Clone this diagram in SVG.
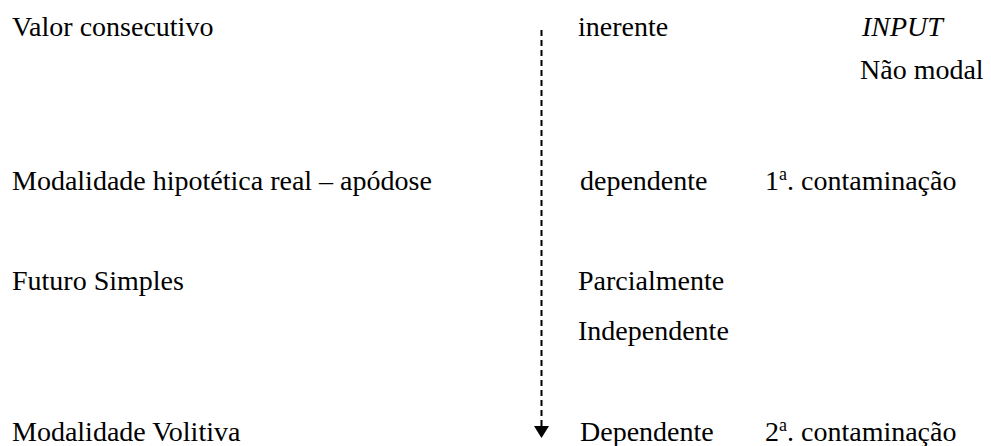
<svg xmlns="http://www.w3.org/2000/svg" width="991" height="446" viewBox="0 0 991 446">
  <style>
    text { font-family: "Liberation Serif", "Times New Roman", "DejaVu Serif", serif; font-size: 28px; fill: #000; }
    .it { font-style: italic; }
    .sup { font-size: 18px; }
    .flow { stroke: #000; stroke-width: 2; stroke-dasharray: 6 4; fill: none; }
  </style>
  <defs>
    <!-- solid triangular head, drawn along +x and turned by the line direction -->
    <marker id="arrowHead" viewBox="0 0 12 15" refX="0" refY="7.5" markerWidth="12" markerHeight="15" markerUnits="userSpaceOnUse" orient="auto">
      <path d="M0,0 L12,7.5 L0,15 Z" fill="#000"/>
    </marker>
  </defs>

  <rect width="991" height="446" fill="#fff"/>

  <!-- left column: values -->
  <g id="valor-consecutivo"><text x="12" y="36">Valor consecutivo</text></g>
  <g id="modalidade-hipotetica"><text x="12" y="190">Modalidade hipotética real – apódose</text></g>
  <g id="futuro-simples"><text x="12" y="290">Futuro Simples</text></g>
  <g id="modalidade-volitiva"><text x="12" y="441">Modalidade Volitiva</text></g>

  <!-- right column: dependency -->
  <g id="inerente"><text x="578" y="36">inerente</text></g>
  <g id="dependente-1"><text x="580" y="190">dependente</text></g>
  <g id="parcialmente-independente">
    <text x="578" y="290">Parcialmente</text>
    <text x="578" y="340">Independente</text>
  </g>
  <g id="dependente-2"><text x="580" y="441">Dependente</text></g>

  <!-- third column: input / contamination -->
  <g id="input">
    <text x="862" y="36" class="it">INPUT</text>
    <text x="860" y="79">Não modal</text>
  </g>
  <g id="contaminacao-1"><text x="765" y="190">1<tspan class="sup" dy="-10">a</tspan><tspan dy="10">. contaminação</tspan></text></g>
  <g id="contaminacao-2"><text x="765" y="441">2<tspan class="sup" dy="-10">a</tspan><tspan dy="10">. contaminação</tspan></text></g>

  <!-- connectors -->
  <g id="connectors">
    <line class="flow" x1="541.5" y1="30" x2="541.5" y2="426" marker-end="url(#arrowHead)"/>
  </g>
</svg>
